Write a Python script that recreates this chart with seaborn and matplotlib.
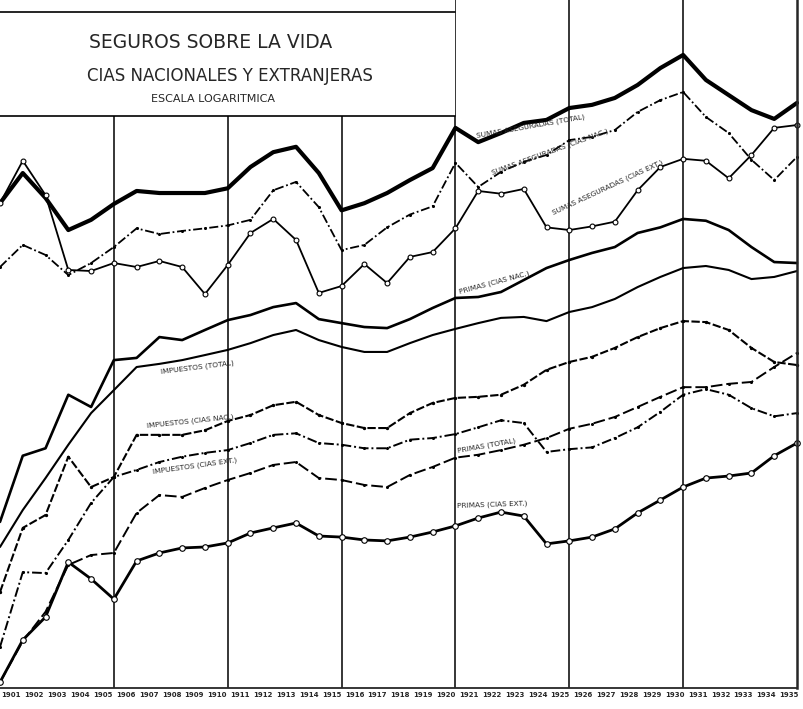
import matplotlib
matplotlib.use("Agg")
import matplotlib.pyplot as plt
import numpy as np
import seaborn as sns
from matplotlib.patches import Rectangle

# años 1900-1935 (escala logaritmica, unidades arbitrarias)
years = list(range(1900, 1936))
year_labels = [str(y) for y in range(1901, 1936)]

sumas_total = [130, 176, 137, 99.3, 110, 129, 147, 144, 144, 144, 151, 187, 217, 229, 176, 121, 130, 144,
               164, 185, 277, 240, 263, 291, 300, 338, 349, 374, 426, 505, 576, 448, 385, 331, 303, 356]
sumas_nac = [68.5, 85.5, 77.3, 63.2, 71.3, 83.7, 101, 95.4, 98.4, 101, 104, 110, 148, 161, 125, 81.2, 85.5, 102,
             116, 126, 195, 153, 178, 197, 211, 245, 253, 271, 325, 366, 397, 309, 263, 201, 164, 207]
sumas_ext = [130, 199, 141, 66.5, 65.8, 71.3, 68.5, 72.8, 68.5, 52.2, 69.9, 96.4, 111, 89.9, 52.8, 56.6, 70.6, 58.3,
             75.8, 79.6, 101, 147, 143, 150, 102, 99.3, 103, 108, 148, 187, 203, 199, 167, 211, 277, 285]
primas_nac = [5.30, 10.3, 11.1, 19.0, 16.8, 26.9, 27.5, 33.9, 32.9, 36.4, 40.2, 42.3, 45.8, 47.7, 40.6, 39.0, 37.5, 37.1,
              40.6, 45.4, 50.2, 50.7, 53.3, 60.1, 67.8, 73.5, 78.9, 83.7, 96.4, 102, 111, 109, 99.3, 83.7, 72.0, 71.3]
impuestos_total = [4.12, 5.97, 8.23, 11.5, 15.8, 19.9, 25.1, 25.9, 26.9, 28.3, 29.8, 31.9, 34.6, 36.4, 32.9, 30.7, 29.2, 29.2,
                   31.9, 34.6, 36.8, 39.0, 41.1, 41.5, 39.8, 43.6, 45.8, 49.7, 56.0, 62.0, 67.8, 69.2, 66.5, 60.7, 62.0, 65.8]
impuestos_nac = [2.62, 4.99, 5.68, 10.2, 7.52, 8.32, 12.7, 12.7, 12.7, 13.3, 14.6, 15.5, 17.1, 17.7, 15.5, 14.3, 13.6, 13.6,
                 15.8, 17.5, 18.4, 18.6, 19.0, 21.0, 24.4, 26.4, 27.8, 30.4, 33.9, 37.1, 39.8, 39.4, 36.4, 30.4, 26.4, 25.6]
impuestos_ext = [1.51, 3.20, 3.17, 4.42, 6.41, 8.32, 8.93, 9.67, 10.2, 10.6, 10.9, 11.7, 12.7, 12.9, 11.7, 11.5, 11.1, 11.1,
                 12.1, 12.3, 12.8, 13.7, 14.7, 14.3, 10.7, 11.0, 11.2, 12.3, 13.7, 16.0, 19.0, 20.1, 19.0, 16.6, 15.3, 15.8]
primas_total = [1.06, 1.60, 2.15, 3.44, 3.80, 3.88, 5.80, 6.94, 6.81, 7.45, 8.07, 8.66, 9.39, 9.67, 8.23, 8.07, 7.68, 7.52,
                8.49, 9.20, 10.1, 10.4, 10.9, 11.5, 12.3, 13.5, 14.2, 15.2, 16.8, 18.6, 20.5, 20.5, 21.2, 21.6, 25.1, 28.9]
primas_ext = [1.06, 1.62, 2.04, 3.54, 2.99, 2.44, 3.58, 3.88, 4.08, 4.12, 4.29, 4.74, 4.99, 5.24, 4.60, 4.55, 4.42, 4.38,
              4.55, 4.79, 5.09, 5.51, 5.85, 5.62, 4.25, 4.38, 4.55, 4.94, 5.80, 6.60, 7.52, 8.23, 8.40, 8.66, 10.3, 11.7]

sns.set_style("white")
plt.rcParams["font.family"] = ["DejaVu Sans"]

fig = plt.figure(figsize=(8.04, 7.09), dpi=100)
ax = fig.add_axes([0, 21 / 709, 797 / 804, 688 / 709])

# (valores, grosor, estilo, marcador, tamaño)
series = [
    (sumas_total, 3.0, "-", None, 0),
    (sumas_nac, 1.3, (0, (5, 1.5, 1, 1.5)), "o", 1.4),
    (sumas_ext, 1.3, "-", "o", 3.5),
    (primas_nac, 1.9, "-", None, 0),
    (impuestos_total, 1.5, "-", None, 0),
    (impuestos_nac, 1.5, (0, (4, 1.2)), "o", 1.6),
    (impuestos_ext, 1.4, (0, (5, 1.5, 1, 1.5)), "o", 1.4),
    (primas_total, 1.4, (0, (6, 2)), "o", 1.4),
    (primas_ext, 2.0, "-", "o", 4.0),
]

for vals, lw, ls, mk, ms in series:
    kw = {}
    if mk:
        kw = dict(marker=mk, markersize=ms, markeredgewidth=0.8,
                  markerfacecolor="white" if ms > 3 else "black", markeredgecolor="black")
    sns.lineplot(x=years, y=vals, ax=ax, color="black", lw=lw, linestyle=ls, clip_on=False, **kw)

ax.set_yscale("log")
ax.set_ylim(1, 1000)
ax.set_xlim(1900, 1935)
ax.set_yticks([])
ax.minorticks_off()

# lineas verticales cada 5 años
for x in range(1905, 1935, 5):
    ax.axvline(x, color="black", lw=1.1, zorder=1)

for side in ["left", "top"]:
    ax.spines[side].set_visible(False)
ax.spines["right"].set_linewidth(1.8)
ax.spines["bottom"].set_linewidth(1.3)

ax.set_xticks(years, [""] * len(years))
ax.tick_params(axis="x", which="major", direction="in", length=4, width=0.9)
ax.set_xticks(np.linspace(1900.5, 1934.65, len(year_labels)), year_labels, minor=True)
ax.tick_params(axis="x", which="minor", length=0, pad=3, labelsize=5)
for t in ax.get_xticklabels(minor=True):
    t.set_fontweight("bold")

# recuadro del titulo
ax.add_patch(Rectangle((0, 572 / 688), 20 / 35, 116 / 688, transform=ax.transAxes,
                       facecolor="white", edgecolor="none", zorder=5, clip_on=False))
ax.plot([0, 20 / 35], [676 / 688, 676 / 688], transform=ax.transAxes, color="black", lw=1.2, zorder=6)
ax.plot([0, 20 / 35], [572 / 688, 572 / 688], transform=ax.transAxes, color="black", lw=1.2, zorder=6)


def pos(px, py):
    return px / 797, (688 - py) / 688


ax.text(*pos(211, 42), "SEGUROS SOBRE LA VIDA", transform=ax.transAxes, ha="center", va="center",
        fontsize=13.5, zorder=7)
ax.text(*pos(230, 76), "CIAS NACIONALES Y EXTRANJERAS", transform=ax.transAxes, ha="center", va="center",
        fontsize=12, zorder=7)
ax.text(*pos(213, 99), "ESCALA LOGARITMICA", transform=ax.transAxes, ha="center", va="center",
        fontsize=8, zorder=7)

labels = [
    ("SUMAS ASEGURADAS (TOTAL)", 531, 126, 10),
    ("SUMAS ASEGURADAS (CIAS NAC.)", 550, 152, 20),
    ("SUMAS ASEGURADAS (CIAS EXT.)", 608, 187, 25),
    ("PRIMAS (CIAS NAC.)", 494, 282, 15),
    ("IMPUESTOS (TOTAL)", 197, 367, 7),
    ("IMPUESTOS (CIAS NAC.)", 190, 421, 6),
    ("IMPUESTOS (CIAS EXT.)", 195, 466, 8),
    ("PRIMAS (TOTAL)", 487, 446, 10),
    ("PRIMAS (CIAS EXT.)", 492, 505, 2),
]
for txt, px, py, rot in labels:
    ax.text(*pos(px, py), txt, transform=ax.transAxes, ha="center", va="center",
            fontsize=5.3, rotation=rot, rotation_mode="anchor", zorder=7)

fig.savefig("out.png", dpi=100)
plt.close()
